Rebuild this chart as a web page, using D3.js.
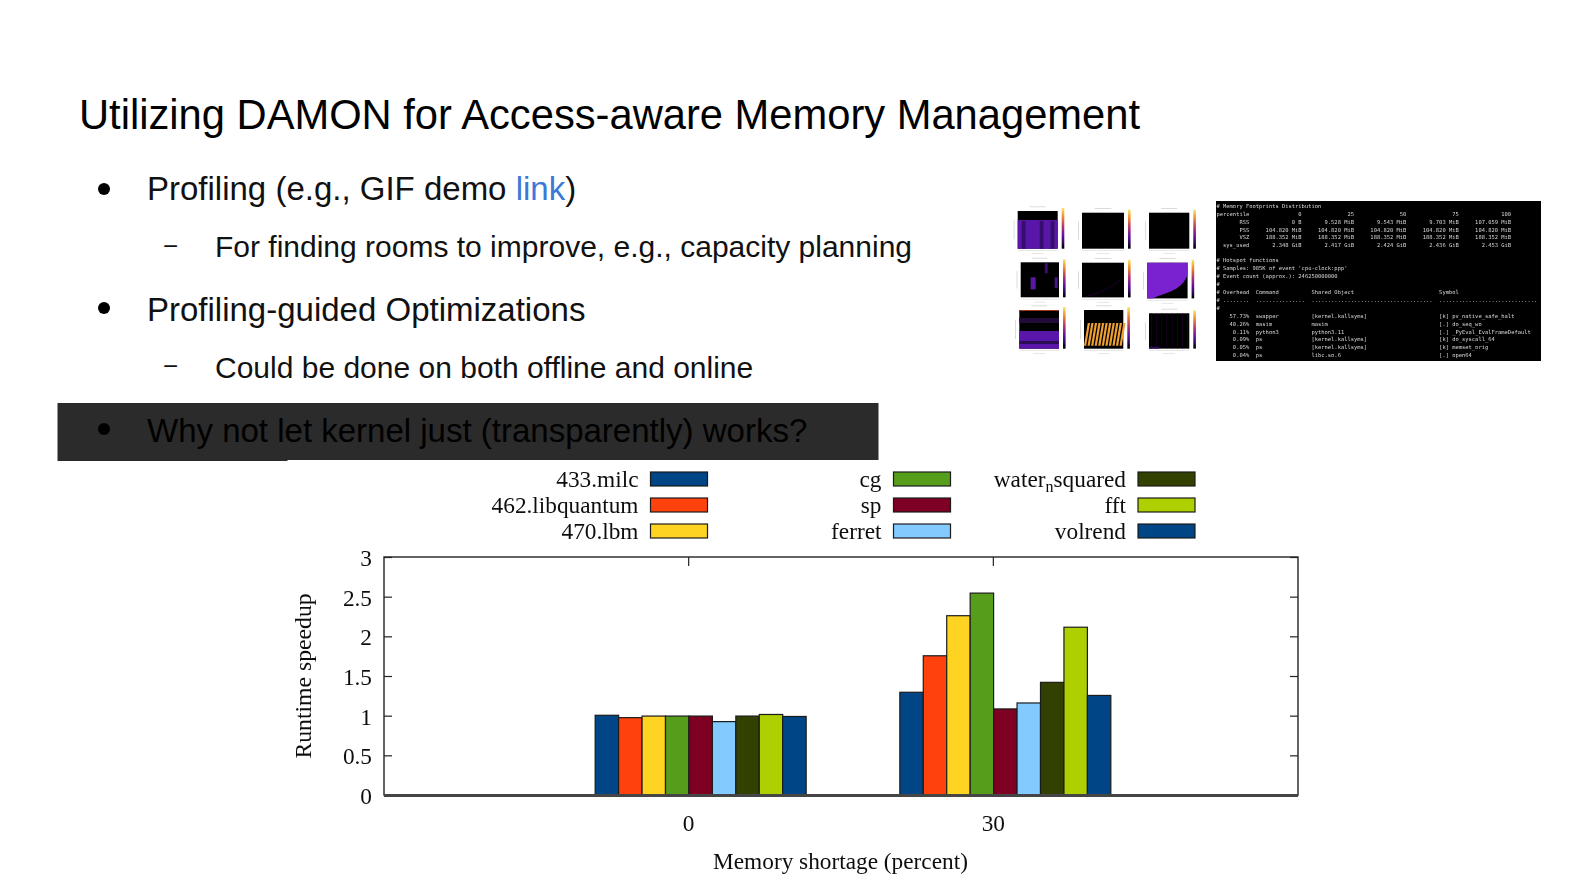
<!DOCTYPE html>
<html><head><meta charset="utf-8">
<script src="https://cdn.jsdelivr.net/npm/d3@7"></script>
<style>html,body{margin:0;background:#fff}svg{display:block}</style></head>
<body><svg id="c" width="1587" height="893"></svg>
<script>
const categories = ["0", "30"];
const seriesNames = ["433.milc","462.libquantum","470.lbm","cg","sp","ferret","water_squared","fft","volrend"];
const values0 = [1.005,0.975,0.995,0.995,0.995,0.925,0.995,1.015,0.99];
const values30 = [1.295,1.755,2.26,2.545,1.085,1.16,1.42,2.115,1.255];
const seriesColors = ["#004586","#ff420e","#ffd320","#579d1c","#7e0021","#83caff","#314004","#aecf00","#004586"];
const yTicks = [0,0.5,1,1.5,2,2.5,3];
const yTickLabels = ["0","0.5","1","1.5","2","2.5","3"];
const valuesByCategory = [values0, values30];

const svg = d3.select("#c");
const SANS = "'Liberation Sans',Arial,sans-serif", SERIF = "'Liberation Serif',serif", MONO="'DejaVu Sans Mono',monospace";
const CHART_FONT = 23.3;
const defs = svg.append("defs");
defs.append("filter").attr("id","soft").append("feGaussianBlur").attr("stdDeviation",0.3);
defs.append("filter").attr("id","soft2").append("feGaussianBlur").attr("stdDeviation",0.55);
defs.append("filter").attr("id","soft3").append("feGaussianBlur").attr("stdDeviation",0.4);
const mg = defs.append("linearGradient").attr("id","magma").attr("x1",0).attr("x2",0).attr("y1",1).attr("y2",0);
[["0","#000"],["0.3","#5a10a0"],["0.55","#b5366a"],["0.78","#ee8a2a"],["1","#f6e96a"]].forEach(s=>mg.append("stop").attr("offset",s[0]).attr("stop-color",s[1]));

/* ---------- slide text ---------- */
function t(x,y,s,size,fill,font){return svg.append("text").attr("x",x).attr("y",y).attr("font-family",font||SANS).attr("font-size",size).attr("fill",fill||"#000").text(s);}
t(79,129,"Utilizing DAMON for Access-aware Memory Management",41.7,"#000");
svg.append("rect").attr("x",57.5).attr("y",403).attr("width",821).attr("height",57).attr("fill","#2b2b2b");
svg.append("rect").attr("x",57.5).attr("y",460).attr("width",230).attr("height",1).attr("fill","#2b2b2b");
[[104,189],[104,308],[104,429]].forEach(b=>svg.append("circle").attr("cx",b[0]).attr("cy",b[1]).attr("r",6).attr("fill","#000"));
const prof=t(147,200,"",33,"#111");
prof.append("tspan").text("Profiling (e.g., GIF demo ");
prof.append("tspan").attr("fill","#3c78d8").text("link");
prof.append("tspan").text(")");
t(163,255,"−",26,"#111");
t(215,257,"For finding rooms to improve, e.g., capacity planning",30,"#111");
t(147,321,"Profiling-guided Optimizations",33,"#111");
t(163,375,"−",26,"#111");
t(215,378,"Could be done on both offline and online",30,"#111");
t(147,442,"Why not let kernel just (transparently) works?",33,"#000");

/* ---------- chart ---------- */
const x0=384,x1=1298,yTop=557,yBot=795;
const x=d3.scaleBand().domain(categories).range([x0,x1]).paddingInner(0).paddingOuter(0.5);
const y=d3.scaleLinear().domain([0,3]).range([yBot,yTop]);
const inner=d3.scaleBand().domain(seriesNames).range([-93.5,117.5]);
const plot=svg.append("g").attr("filter","url(#soft)");
plot.append("rect").attr("x",x0).attr("y",yTop).attr("width",x1-x0).attr("height",yBot-yTop).attr("fill","#fff").attr("stroke","#222").attr("stroke-width",1.4);
const cx=c=>x(c)+x.bandwidth()/2;
categories.forEach((c,ci)=>{
  plot.append("g").selectAll("rect").data(valuesByCategory[ci]).join("rect")
    .attr("x",(d,i)=>cx(c)+inner(seriesNames[i]))
    .attr("y",d=>y(d))
    .attr("width",inner.bandwidth())
    .attr("height",d=>y(0)-y(d))
    .attr("fill",(d,i)=>seriesColors[i])
    .attr("stroke","#1c1c1c").attr("stroke-width",1.2);
});
function styleAxis(g){g.select(".domain").remove();g.selectAll("line").attr("stroke","#222").attr("stroke-width",1.2);g.selectAll("text").attr("font-family",SERIF).attr("font-size",CHART_FONT).attr("fill","#111");}
plot.append("g").attr("transform",`translate(${x0},0)`).call(d3.axisLeft(y).tickValues(yTicks).tickFormat((d,i)=>yTickLabels[i]).tickSize(-8).tickPadding(12)).call(styleAxis).call(g=>g.selectAll("text").attr("dy","0.36em"));
plot.append("g").attr("transform",`translate(${x1},0)`).call(d3.axisRight(y).tickValues(yTicks).tickSize(-8).tickFormat("")).call(styleAxis);
plot.append("g").attr("transform",`translate(0,${yTop})`).call(d3.axisTop(x).tickSize(-9).tickFormat("")).call(styleAxis);
plot.append("g").attr("transform",`translate(0,${yBot})`).call(d3.axisBottom(x).tickSize(0).tickPadding(19)).call(styleAxis);
plot.append("line").attr("x1",x0).attr("x2",x1).attr("y1",yBot+0.5).attr("y2",yBot+0.5).attr("stroke","#444").attr("stroke-width",2.8);
plot.append("text").attr("x",840.5).attr("y",869).attr("text-anchor","middle").attr("font-family",SERIF).attr("font-size",CHART_FONT).attr("fill","#111").text("Memory shortage (percent)");
plot.append("text").attr("transform","translate(311,676) rotate(-90)").attr("text-anchor","middle").attr("font-family",SERIF).attr("font-size",23.7).attr("fill","#111").text("Runtime speedup");

/* legend */
const legX=[650.5,893.5,1138], legY=[472,498,524];
seriesNames.forEach((n,i)=>{
  const col=Math.floor(i/3), row=i%3, sx=legX[col], sy=legY[row];
  plot.append("rect").attr("x",sx).attr("y",sy).attr("width",57).attr("height",14).attr("fill",seriesColors[i]).attr("stroke","#1c1c1c").attr("stroke-width",1.2);
  const lt=plot.append("text").attr("x",sx-12).attr("y",sy+15).attr("text-anchor","end").attr("font-family",SERIF).attr("font-size",CHART_FONT).attr("fill","#111");
  if(n.includes("_")){const p=n.split("_");lt.append("tspan").text(p[0]);lt.append("tspan").attr("font-size",16).attr("dy",5).text("n");lt.append("tspan").attr("dy",-5).text(p[1]);}
  else lt.text(n);
});

/* ---------- heatmap thumbnails ---------- */
const thumbs=svg.append("g").attr("filter","url(#soft2)");
const panels=[[1017.7,211,40,37.7],[1082,212.7,42,36],[1149,212.7,40.3,36],[1020.7,262.3,38.3,35],[1082,262.7,42,34.7],[1147.3,262.7,40.3,35.7],[1019.3,310,39.7,38.7],[1084,310,39.3,38.7],[1149,313.3,40.3,35.3]];
panels.forEach((p,i)=>{
  const [px,py,pw,ph]=p;
  const g=thumbs.append("g");
  g.append("rect").attr("x",px).attr("y",py).attr("width",pw).attr("height",ph).attr("fill","#000");
  g.append("rect").attr("x",px+pw+4).attr("y",py-3).attr("width",2.6).attr("height",ph+3).attr("fill","url(#magma)");
  g.append("rect").attr("x",px-4).attr("y",py+ph*0.25).attr("width",0.7).attr("height",ph*0.5).attr("fill","#ccc");
  g.append("rect").attr("x",px).attr("y",py+ph+1.5).attr("width",pw).attr("height",0.7).attr("fill","#ddd");
  g.append("rect").attr("x",px+pw*0.3).attr("y",py-4.5).attr("width",pw*0.4).attr("height",0.7).attr("fill","#ccc");
  g.append("rect").attr("x",px+pw*0.35).attr("y",py+ph+4.5).attr("width",pw*0.3).attr("height",0.7).attr("fill","#ddd");
  if(i===0){
    g.append("rect").attr("x",px).attr("y",py+9).attr("width",pw).attr("height",ph-9).attr("fill","#5a18a8");
    [0.1,0.55,0.82].forEach(f=>g.append("rect").attr("x",px+pw*f).attr("y",py+10).attr("width",pw*0.1).attr("height",ph-10).attr("fill","#34106a"));
  }
  if(i===3){
    g.append("rect").attr("x",px+10).attr("y",py+15).attr("width",5).attr("height",12).attr("fill","#5a18a8");
    g.append("rect").attr("x",px+24).attr("y",py+1).attr("width",3).attr("height",10).attr("fill","#3a1070");
    g.append("rect").attr("x",px+34).attr("y",py+15).attr("width",3).attr("height",11).attr("fill","#4a1488");
  }
  if(i===4){g.append("path").attr("d",`M${px+4} ${py+ph-1}Q${px+25} ${py+ph-6} ${px+38} ${py+17}`).attr("fill","none").attr("stroke","#26083f").attr("stroke-width",0.8);}
  if(i===5){g.append("path").attr("d",`M${px} ${py}H${px+pw}V${py+12}C${px+pw-6} ${py+ph-8} ${px+22} ${py+ph-7} ${px+5} ${py+ph}H${px}Z`).attr("fill","#7a22d0");}
  if(i===6){
    g.append("rect").attr("x",px).attr("y",py).attr("width",pw).attr("height",1).attr("fill","#a03020");
    g.append("rect").attr("x",px).attr("y",py+8).attr("width",pw).attr("height",5).attr("fill","#220838");
    g.append("rect").attr("x",px).attr("y",py+21).attr("width",pw).attr("height",10).attr("fill","#5a18a8");
    g.append("rect").attr("x",px).attr("y",py+31).attr("width",pw).attr("height",3).attr("fill","#2a0a55");
    g.append("rect").attr("x",px).attr("y",py+34).attr("width",pw).attr("height",4.7).attr("fill","#5a18a8");
  }
  if(i===7){
    d3.range(11).forEach(k=>g.append("path").attr("d",`M${px+k*3.55} ${py+ph-3}L${px+k*3.55+2.2} ${py+ph-3}L${px+k*3.55+6} ${py+13}L${px+k*3.55+3.8} ${py+13}Z`).attr("fill","#f0a030"));
  }
  if(i===8){d3.range(8).forEach(k=>g.append("rect").attr("x",px+k*5.2+2).attr("y",py).attr("width",0.7).attr("height",ph).attr("fill","#1c0830"));
    g.append("rect").attr("x",px).attr("y",py+ph-2).attr("width",10).attr("height",2).attr("fill","#2a0a55");}
});

/* ---------- terminal screenshot ---------- */
const fp=(a,...c)=>a.padStart(10)+c.map(s=>s.padStart(16)).join("");
const hot=(a,b,c,d)=>a.padStart(10)+"  "+b.padEnd(17)+c.padEnd(39)+d;
const termLines=[
"# Memory Footprints Distribution",
fp("percentile","0","25","50","75","100"),
fp("RSS","0 B","9.528 MiB","9.543 MiB","9.703 MiB","107.059 MiB"),
fp("PSS","104.820 MiB","104.820 MiB","104.820 MiB","104.820 MiB","104.820 MiB"),
fp("VSZ","188.352 MiB","188.352 MiB","188.352 MiB","188.352 MiB","188.352 MiB"),
fp("sys_used","2.348 GiB","2.417 GiB","2.424 GiB","2.436 GiB","2.453 GiB"),
"",
"# Hotspot functions",
"# Samples: 985K of event 'cpu-clock:ppp'",
"# Event count (approx.): 246250000000",
"#",
"# Overhead  Command          Shared Object                          Symbol",
"# ........  ...............  .....................................  ..............................",
"#",
hot("57.73%","swapper","[kernel.kallsyms]","[k] pv_native_safe_halt"),
hot("40.26%","masim","masim","[.] do_seq_wo"),
hot("0.11%","python3","python3.11","[.] _PyEval_EvalFrameDefault"),
hot("0.09%","ps","[kernel.kallsyms]","[k] do_syscall_64"),
hot("0.05%","ps","[kernel.kallsyms]","[k] memset_orig"),
hot("0.04%","ps","libc.so.6","[.] open64")];
const term=svg.append("g");
term.append("rect").attr("x",1216).attr("y",201).attr("width",325).attr("height",160).attr("fill","#000");
const termText=term.append("g").attr("filter","url(#soft3)");
const termY=[207.5,215.5,223.5,231.5,239.1,246.8,0,262.1,270.1,278.1,285.8,293.5,301.8,310.1,317.8,325.5,333.5,341.2,349,356.8];
termLines.forEach((l,i)=>{ if(!l) return;
  termText.append("text").attr("x",1216.5).attr("y",termY[i]).style("white-space","pre").attr("font-family",MONO).attr("font-size",5.45).attr("fill","#d8d8d8").text(l);
});
</script></body></html>
